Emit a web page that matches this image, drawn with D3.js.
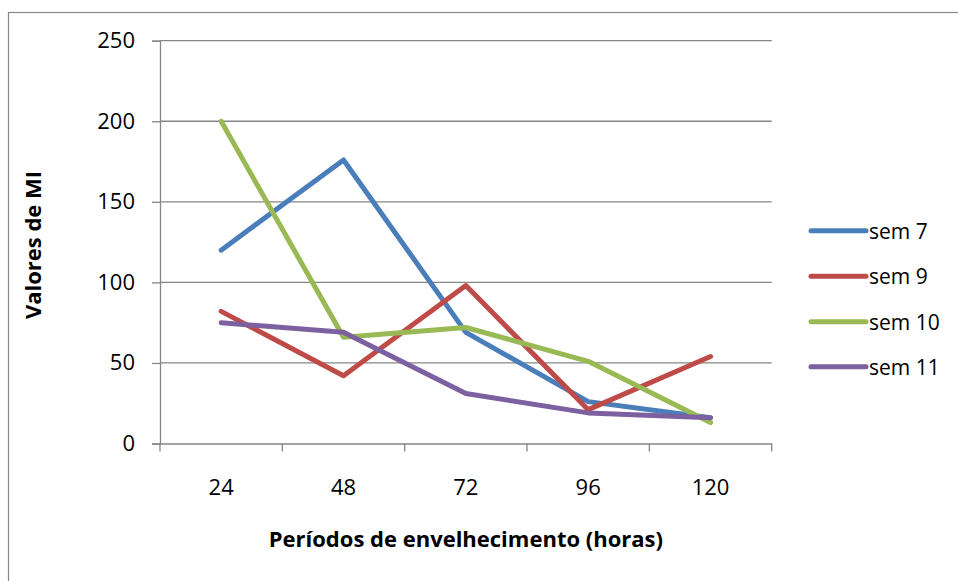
<!DOCTYPE html>
<html>
<head>
<meta charset="utf-8">
<script src="https://cdn.jsdelivr.net/npm/d3@7"></script>
<style>
  html, body { margin: 0; padding: 0; background: #fff; }
  svg { display: block; }
  text { font-family: "Open Sans", "Liberation Sans", sans-serif; fill: #000; }
</style>
</head>
<body>
<svg id="chart" width="958" height="581"></svg>
<script>
const categories = ["24", "48", "72", "96", "120"];
const seriesNames = ["sem 7", "sem 9", "sem 10", "sem 11"];
const sem7  = [120, 176, 69, 26, 16];
const sem9  = [82, 42, 98, 21, 54];
const sem10 = [200, 66, 72, 51, 13];
const sem11 = [75, 69, 31, 19, 16];
const yTicks = [0, 50, 100, 150, 200, 250];
const colors = ["#4a7ebb", "#be4b48", "#98b954", "#7d60a0"];
const xTitle = "Períodos de envelhecimento (horas)";
const yTitle = "Valores de MI";

const series = [sem7, sem9, sem10, sem11].map((v, i) => ({ name: seriesNames[i], values: v, color: colors[i] }));

const svg = d3.select("#chart");
const pLeft = 160, pRight = 771.7, pTop = 40.7, pBottom = 443.5;

// outer chart border
svg.append("rect").attr("x", 8.5).attr("y", 12.5).attr("width", 1200).attr("height", 1200)
  .attr("fill", "none").attr("stroke", "#868686").attr("stroke-width", 1.2);

const x = d3.scaleBand().domain(categories).range([pLeft, pRight]).padding(0);
const y = d3.scaleLinear().domain([0, 250]).range([pBottom, pTop]);

// gridlines
svg.append("g").selectAll("line").data(yTicks.filter(d => d > 0)).join("line")
  .attr("x1", pLeft).attr("x2", pRight)
  .attr("y1", d => y(d)).attr("y2", d => y(d))
  .attr("stroke", "#868686").attr("stroke-width", 1.3);

// y axis
const yAxis = svg.append("g").attr("transform", `translate(${pLeft},0)`)
  .call(d3.axisLeft(y).tickValues(yTicks).tickSize(8).tickPadding(6).tickFormat(d3.format("d")));
yAxis.select(".domain").attr("stroke", "#868686").attr("stroke-width", 1.3);
yAxis.selectAll(".tick line").attr("stroke", "#868686").attr("stroke-width", 1.3);
yAxis.selectAll(".tick text").attr("font-size", 22).attr("font-family", "Open Sans").attr("fill", "#000").attr("x", -25);

// x axis
const xAxis = svg.append("g").attr("transform", `translate(0,${pBottom})`)
  .call(d3.axisBottom(x).tickSize(0).tickPadding(0));
xAxis.select(".domain").attr("stroke", "#868686").attr("stroke-width", 1.3);
xAxis.selectAll(".tick text").attr("font-size", 22).attr("font-family", "Open Sans").attr("fill", "#000").attr("y", 51).attr("dy", "0");
// tick marks at band boundaries
const bounds = categories.map(c => x(c)).concat([x(categories[categories.length - 1]) + x.bandwidth()]);
svg.append("g").selectAll("line").data(bounds).join("line")
  .attr("x1", d => d).attr("x2", d => d).attr("y1", pBottom).attr("y2", pBottom + 8)
  .attr("stroke", "#868686").attr("stroke-width", 1.3);

// lines
const line = d3.line().x((d, i) => x(categories[i]) + x.bandwidth() / 2).y(d => y(d));
svg.append("g").selectAll("path").data(series).join("path")
  .attr("d", d => line(d.values))
  .attr("fill", "none").attr("stroke", d => d.color).attr("stroke-width", 5)
  .attr("stroke-linecap", "round").attr("stroke-linejoin", "round");

// axis titles
svg.append("text").attr("x", (pLeft + pRight) / 2).attr("y", 547).attr("text-anchor", "middle")
  .attr("font-size", 22).attr("font-weight", "bold").text(xTitle);
svg.append("text").attr("transform", "translate(41,245) rotate(-90)").attr("text-anchor", "middle")
  .attr("font-size", 22).attr("font-weight", "bold").text(yTitle);

// legend
const legendY = [230.7, 276.3, 321.7, 366.7];
const lg = svg.append("g").selectAll("g").data(series).join("g")
  .attr("transform", (d, i) => `translate(811,${legendY[i]})`);
lg.append("line").attr("x1", 0).attr("x2", 55).attr("y1", 0).attr("y2", 0)
  .attr("stroke", d => d.color).attr("stroke-width", 5).attr("stroke-linecap", "round");
lg.append("text").attr("x", 58).attr("y", 8).attr("font-size", 21).text(d => d.name);
</script>
</body>
</html>
